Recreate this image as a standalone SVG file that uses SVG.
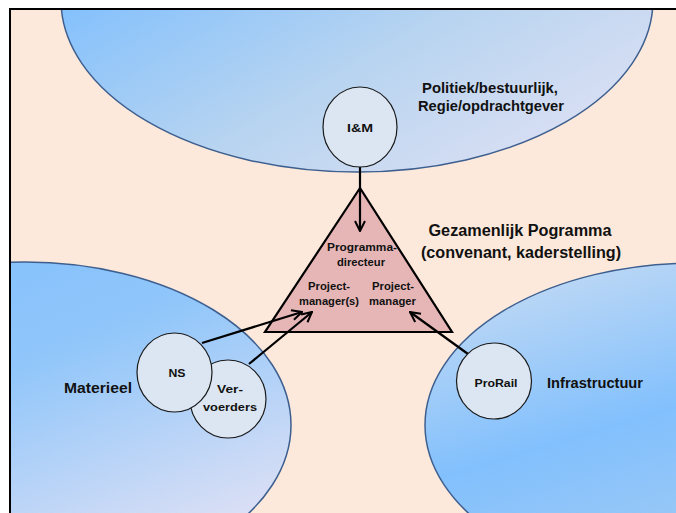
<svg xmlns="http://www.w3.org/2000/svg" width="676" height="513" viewBox="0 0 676 513">
<defs>
<linearGradient id="gTop" x1="0" y1="0" x2="1" y2="1">
<stop offset="0" stop-color="#b4d6f8"/>
<stop offset="0.25" stop-color="#82c0fd"/>
<stop offset="0.6" stop-color="#b8d4f0"/>
<stop offset="1" stop-color="#e6e3f4"/>
</linearGradient>
<linearGradient id="gLeft" x1="0.1" y1="0" x2="0.75" y2="1">
<stop offset="0" stop-color="#82c0fd"/>
<stop offset="0.4" stop-color="#90c6fa"/>
<stop offset="1" stop-color="#e6e3f4"/>
</linearGradient>
<linearGradient id="gRight" x1="0.1" y1="0" x2="0.6" y2="1">
<stop offset="0" stop-color="#c8dcf3"/>
<stop offset="0.5" stop-color="#82c0fd"/>
<stop offset="1" stop-color="#a8cdf2"/>
</linearGradient>
<marker id="arr" viewBox="0 0 12 12" refX="11" refY="6" markerWidth="12" markerHeight="12" markerUnits="userSpaceOnUse" orient="auto">
<path d="M1,1 L11,6 L1,11" fill="none" stroke="#000" stroke-width="2"/>
</marker>
<clipPath id="frame"><rect x="10" y="9" width="670" height="510"/></clipPath>
</defs>
<style>
.lbl{font-family:"Liberation Sans",Arial,sans-serif;font-weight:bold;fill:#111;text-anchor:middle}
.sm{font-size:11px}
.md{font-size:14px}
.lg{font-size:16px}
.node{fill:#dce6f2;stroke:#1a1a1a;stroke-width:1.2}
.zone{stroke:#3d5f8f;stroke-width:1.5}
.conn{stroke:#000;stroke-width:2.2;fill:none}
</style>
<rect x="0" y="0" width="676" height="513" fill="#ffffff"/>
<rect x="10" y="9" width="670" height="510" fill="#fde9db"/>
<g clip-path="url(#frame)">
<g id="zone-top"><ellipse class="zone" cx="357" cy="0" rx="296" ry="172" fill="url(#gTop)"/></g>
<g id="zone-left"><ellipse class="zone" cx="25" cy="425" rx="266" ry="163" fill="url(#gLeft)"/></g>
<g id="zone-right"><ellipse class="zone" cx="695" cy="425" rx="270" ry="162" fill="url(#gRight)"/></g>
</g>
<rect x="10" y="9" width="670" height="510" fill="none" stroke="#000" stroke-width="2"/>
<g id="zone-labels">
<text class="lbl md" x="490" y="93" textLength="136" lengthAdjust="spacingAndGlyphs">Politiek/bestuurlijk,</text>
<text class="lbl md" x="491" y="111" textLength="146" lengthAdjust="spacingAndGlyphs">Regie/opdrachtgever</text>
<text class="lbl lg" x="520" y="236" textLength="183" lengthAdjust="spacingAndGlyphs">Gezamenlijk Pogramma</text>
<text class="lbl lg" x="521" y="258" textLength="200" lengthAdjust="spacingAndGlyphs">(convenant, kaderstelling)</text>
<text class="lbl md" x="98" y="393" textLength="68" lengthAdjust="spacingAndGlyphs">Materieel</text>
<text class="lbl md" x="595" y="388" textLength="96" lengthAdjust="spacingAndGlyphs">Infrastructuur</text>
</g>
<g id="programma">
<polygon points="360,188 265,332 452,332" fill="#e6b6b6" stroke="#000" stroke-width="2.2" stroke-linejoin="miter"/>
<text class="lbl sm" x="362" y="251" textLength="70" lengthAdjust="spacingAndGlyphs">Programma-</text>
<text class="lbl sm" x="361" y="266" textLength="48" lengthAdjust="spacingAndGlyphs">directeur</text>
<text class="lbl sm" x="329" y="290" textLength="42" lengthAdjust="spacingAndGlyphs">Project-</text>
<text class="lbl sm" x="329" y="305" textLength="60" lengthAdjust="spacingAndGlyphs">manager(s)</text>
<text class="lbl sm" x="393" y="290" textLength="42" lengthAdjust="spacingAndGlyphs">Project-</text>
<text class="lbl sm" x="392.5" y="305" textLength="47" lengthAdjust="spacingAndGlyphs">manager</text>
</g>
<g id="connectors">
<line class="conn" x1="360" y1="167" x2="360" y2="231" marker-end="url(#arr)"/>
<line class="conn" x1="202" y1="343" x2="302" y2="312" marker-end="url(#arr)"/>
<line class="conn" x1="249" y1="364" x2="312" y2="312" marker-end="url(#arr)"/>
<line class="conn" x1="468" y1="354" x2="410" y2="312" marker-end="url(#arr)"/>
</g>
<g id="node-im">
<ellipse class="node" cx="360" cy="127" rx="37" ry="40"/>
<text class="lbl sm" x="360" y="132" textLength="26" lengthAdjust="spacingAndGlyphs">I&amp;M</text>
</g>
<g id="node-vervoerders">
<ellipse class="node" cx="228" cy="399" rx="38" ry="39"/>
<text class="lbl sm" x="230" y="393" textLength="26" lengthAdjust="spacingAndGlyphs">Ver-</text>
<text class="lbl sm" x="230" y="411" textLength="54" lengthAdjust="spacingAndGlyphs">voerders</text>
</g>
<g id="node-ns">
<ellipse class="node" cx="174.5" cy="372.5" rx="37.5" ry="39.5"/>
<text class="lbl sm" x="177" y="377" textLength="17" lengthAdjust="spacingAndGlyphs">NS</text>
</g>
<g id="node-prorail">
<ellipse class="node" cx="494" cy="381" rx="37.5" ry="38"/>
<text class="lbl sm" x="496" y="387" textLength="43" lengthAdjust="spacingAndGlyphs">ProRail</text>
</g>
</svg>
